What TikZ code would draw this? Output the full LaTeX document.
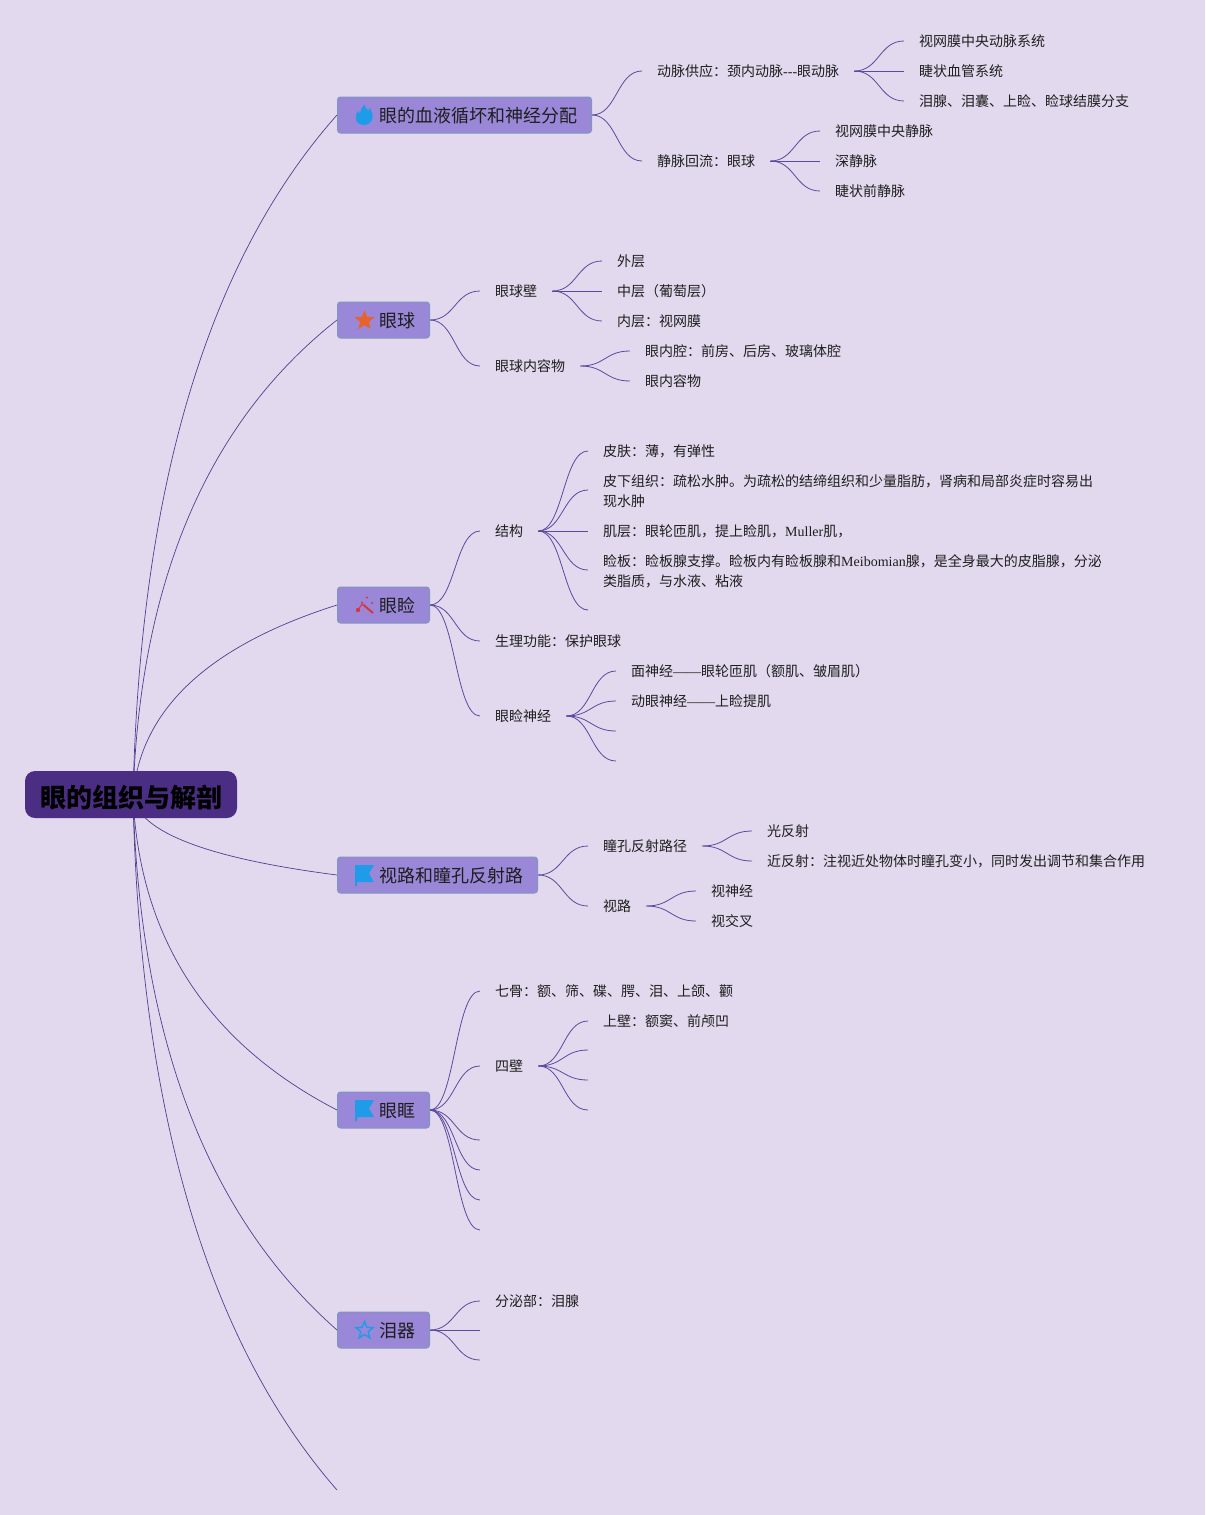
\documentclass[tikz,border=0pt]{standalone}
\usepackage{fontspec}
\usetikzlibrary{calc,shapes.geometric}
\setmainfont{Noto Sans CJK SC}
\newfontfamily\latf{Liberation Serif}
\newcommand\lat[1]{{\latf #1}}
\definecolor{pagebg}{HTML}{E2D9EE}
\definecolor{linec}{HTML}{5B4A9E}
\definecolor{rootline}{HTML}{4F3F8F}
\definecolor{boxfill}{HTML}{9B87D8}
\definecolor{boxline}{HTML}{7F97BC}
\definecolor{rootfill}{HTML}{4B2E83}
\definecolor{inkc}{HTML}{1E1E1E}
\definecolor{iconblue}{HTML}{1F9CE8}
\definecolor{iconorange}{HTML}{E8622C}
\definecolor{iconred}{HTML}{D8363F}
\pgfdeclarelayer{bg}
\pgfsetlayers{bg,main}
\tikzset{
  leaf/.style={anchor=west,inner xsep=15pt,inner ysep=0pt,text=inkc,text height=12.5pt,text depth=1.5pt,font=\fontsize{14}{20}\selectfont},
  leaftwo/.style={anchor=west,inner xsep=15pt,inner ysep=0pt,text=inkc,align=left,font=\fontsize{14}{20}\selectfont},
  topic/.style={anchor=west,draw=boxline,line width=1pt,fill=boxfill,rounded corners=3pt,minimum height=36pt,inner xsep=14.5pt,inner ysep=0pt,text=inkc,text height=18pt,text depth=2.3pt,font=\fontsize{18}{22}\selectfont},
  rootbox/.style={fill=rootfill,rounded corners=10pt,minimum width=212pt,minimum height=47pt,inner sep=0pt,text=black,text height=28pt,text depth=3pt,font=\fontsize{26}{30}\selectfont\bfseries},
  lk/.style={draw=linec,line width=0.8pt},
  rl/.style={draw=rootline,line width=0.7pt},
  starshape/.style={star,star points=5,star point ratio=2.3,inner sep=0pt,minimum size=21pt}
}
\newcommand\lk[2]{\begin{pgfonlayer}{bg}\draw[lk] let \p1=(#1.east),\p2=(#2) in (\p1) .. controls ({0.5*(\x1+\x2)},\y1) and ({0.5*(\x1+\x2)},\y2) .. (\p2);\end{pgfonlayer}}
\newcommand\rk[1]{\begin{pgfonlayer}{bg}\draw[rl] let \p1=(rootc),\p2=(#1) in (\p1) .. controls ({\x1+0.0333*(\x2-\x1)},{\y1+0.4533*(\y2-\y1)}) and ({\x1+0.3667*(\x2-\x1)},{\y1+0.7867*(\y2-\y1)}) .. (\p2);\end{pgfonlayer}}
\newcommand\tp[1]{\hspace*{27pt}#1}
\begin{document}
\begin{tikzpicture}[x=1pt,y=-1pt]
\begin{pgfonlayer}{bg}
\path[use as bounding box,fill=pagebg] (0,0) rectangle (1205,1515);
\end{pgfonlayer}
% root
\node[rootbox] (root) at (131,794.5) {眼的组织与解剖};
\coordinate (rootc) at (133,797);
% topics
\node[topic] (t1) at (337,115) {\tp{眼的血液循坏和神经分配}};
\node[topic] (t2) at (337,320) {\tp{眼球}};
\node[topic] (t3) at (337,605) {\tp{眼睑}};
\node[topic] (t4) at (337,875) {\tp{视路和瞳孔反射路}};
\node[topic] (t5) at (337,1110) {\tp{眼眶}};
\node[topic] (t6) at (337,1330) {\tp{泪器}};
\coordinate (t7) at (337,1490);
\foreach \k in {t1,t2,t3,t4,t5,t6}{\rk{\k.west}}
\rk{t7}
% icons
\fill[iconblue] (364.5,104.5) .. controls (365,108) and (368,110) .. (369,111) .. controls (369.5,110) and (369.5,109) .. (369,107.5) .. controls (374,112) and (375,124) .. (364.5,125) .. controls (354,125) and (354,115) .. (358.5,110.5) .. controls (358.5,112) and (359,113) .. (360,113.5) .. controls (360,110) and (362,107) .. (364.5,104.5) -- cycle;
\node[starshape,fill=iconorange] (ic2) at (364.5,320.5) {};
\draw[iconred,line width=2pt] (363,604.5) -- (373,613);
\draw[iconred,line width=1pt] (358,610) -- (362.5,603.5);
\fill[iconred] (358,610) circle (2.2) (367,597.5) circle (1.2) (372,603) circle (1.2) (362,602.5) circle (1.1);
\fill[iconblue] (355,865) -- (374,865) -- (369,873.5) -- (374,882) -- (357,882) -- (357,886) -- (355,886) -- cycle;
\fill[iconblue] (355,1100) -- (374,1100) -- (369,1108.5) -- (374,1117) -- (357,1117) -- (357,1121) -- (355,1121) -- cycle;
\node[starshape,draw=iconblue,line width=1.4pt,minimum size=18pt] (ic6) at (364.5,1330.5) {};
% branch 1
\node[leaf] (a1) at (642,71) {动脉供应：颈内动脉\lat{-{}-{}-}眼动脉};
\node[leaf] (a2) at (642,161) {静脉回流：眼球};
\lk{t1}{a1.west}\lk{t1}{a2.west}
\node[leaf] (a11) at (904,41) {视网膜中央动脉系统};
\node[leaf] (a12) at (904,71) {睫状血管系统};
\node[leaf] (a13) at (904,101) {泪腺、泪囊、上睑、睑球结膜分支};
\foreach \k in {a11,a12,a13}{\lk{a1}{\k.west}}
\node[leaf] (a21) at (820,131) {视网膜中央静脉};
\node[leaf] (a22) at (820,161) {深静脉};
\node[leaf] (a23) at (820,191) {睫状前静脉};
\foreach \k in {a21,a22,a23}{\lk{a2}{\k.west}}
% branch 2
\node[leaf] (b1) at (480,291) {眼球壁};
\node[leaf] (b2) at (480,366) {眼球内容物};
\lk{t2}{b1.west}\lk{t2}{b2.west}
\node[leaf] (b11) at (602,261) {外层};
\node[leaf] (b12) at (602,291) {中层（葡萄层）};
\node[leaf] (b13) at (602,321) {内层：视网膜};
\foreach \k in {b11,b12,b13}{\lk{b1}{\k.west}}
\node[leaf] (b21) at (630,351) {眼内腔：前房、后房、玻璃体腔};
\node[leaf] (b22) at (630,381) {眼内容物};
\foreach \k in {b21,b22}{\lk{b2}{\k.west}}
% branch 3
\node[leaf] (c1) at (480,531) {结构};
\node[leaf] (c2) at (480,641) {生理功能：保护眼球};
\node[leaf] (c3) at (480,716) {眼睑神经};
\foreach \k in {c1,c2,c3}{\lk{t3}{\k.west}}
\node[leaf] (c11) at (588,451) {皮肤：薄，有弹性};
\node[leaftwo] (c12) at (588,491) {皮下组织：疏松水肿。为疏松的结缔组织和少量脂肪，肾病和局部炎症时容易出\\现水肿};
\coordinate (c12e) at (588,490);
\node[leaf] (c13) at (588,531) {肌层：眼轮匝肌，提上睑肌，\lat{Muller}肌，};
\node[leaftwo] (c14) at (588,571) {睑板：睑板腺支撑。睑板内有睑板腺和\lat{Meibomian}腺，是全身最大的皮脂腺，分泌\\类脂质，与水液、粘液};
\coordinate (c14e) at (588,570);
\coordinate (c15) at (588,610);
\foreach \k in {c11,c13}{\lk{c1}{\k.west}}
\lk{c1}{c12e}\lk{c1}{c14e}\lk{c1}{c15}
\node[leaf] (c31) at (616,671) {面神经\lat{——}眼轮匝肌（额肌、皱眉肌）};
\node[leaf] (c32) at (616,701) {动眼神经\lat{——}上睑提肌};
\coordinate (c33) at (616,731);
\coordinate (c34) at (616,761);
\lk{c3}{c31.west}\lk{c3}{c32.west}\lk{c3}{c33}\lk{c3}{c34}
% branch 4
\node[leaf] (d1) at (588,846) {瞳孔反射路径};
\node[leaf] (d2) at (588,906) {视路};
\lk{t4}{d1.west}\lk{t4}{d2.west}
\node[leaf] (d11) at (752,831) {光反射};
\node[leaf] (d12) at (752,861) {近反射：注视近处物体时瞳孔变小，同时发出调节和集合作用};
\lk{d1}{d11.west}\lk{d1}{d12.west}
\node[leaf] (d21) at (696,891) {视神经};
\node[leaf] (d22) at (696,921) {视交叉};
\lk{d2}{d21.west}\lk{d2}{d22.west}
% branch 5
\node[leaf] (e1) at (480,991) {七骨：额、筛、碟、腭、泪、上颌、颧};
\node[leaf] (e2) at (480,1066) {四壁};
\coordinate (e3) at (480,1140);
\coordinate (e4) at (480,1170);
\coordinate (e5) at (480,1200);
\coordinate (e6) at (480,1230);
\lk{t5}{e1.west}\lk{t5}{e2.west}
\foreach \k in {e3,e4,e5,e6}{\lk{t5}{\k}}
\node[leaf] (e21) at (588,1021) {上壁：额窦、前颅凹};
\coordinate (e22) at (588,1050);
\coordinate (e23) at (588,1080);
\coordinate (e24) at (588,1110);
\lk{e2}{e21.west}
\foreach \k in {e22,e23,e24}{\lk{e2}{\k}}
% branch 6
\node[leaf] (f1) at (480,1301) {分泌部：泪腺};
\coordinate (f2) at (480,1330);
\coordinate (f3) at (480,1360);
\lk{t6}{f1.west}\lk{t6}{f2}\lk{t6}{f3}
\end{tikzpicture}
\end{document}
